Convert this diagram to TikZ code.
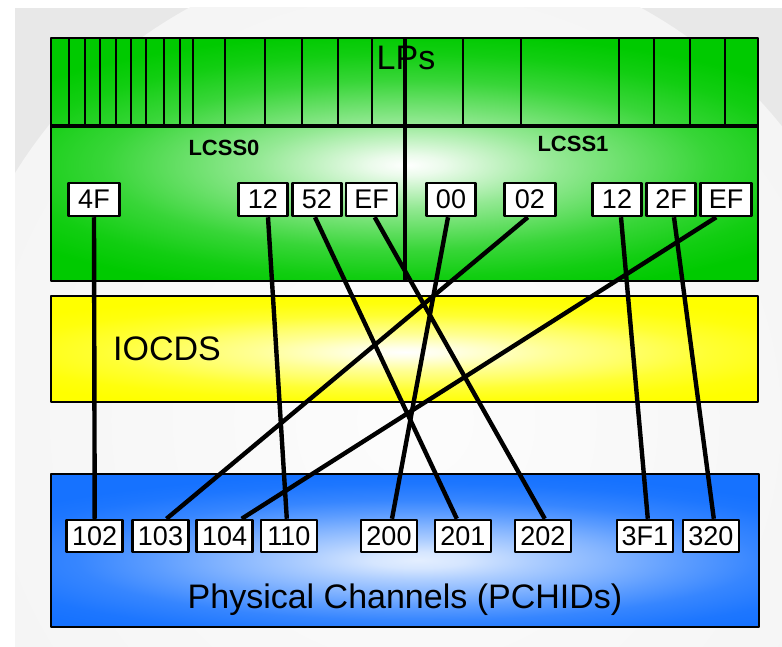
\documentclass[tikz,border=0pt]{standalone}
\usepackage{fontspec}
\setmainfont{Liberation Sans}
\definecolor{lpgreen}{RGB}{0,202,0}
\definecolor{iocyellow}{RGB}{255,255,0}
\definecolor{chblue}{RGB}{22,114,255}
\definecolor{bggray}{RGB}{232,232,232}
\pgfdeclareradialshading{greenglow}{\pgfpointorigin}{color(0bp)=(white); color(4bp)=(lpgreen!8!white); color(10bp)=(lpgreen!25!white); color(16bp)=(lpgreen!42!white); color(24bp)=(lpgreen!60!white); color(32bp)=(lpgreen!78!white); color(42bp)=(lpgreen!93!white); color(50bp)=(lpgreen); color(80bp)=(lpgreen)}
\pgfdeclareradialshading{yellowglow}{\pgfpointorigin}{color(0bp)=(white); color(4bp)=(iocyellow!8!white); color(10bp)=(iocyellow!25!white); color(16bp)=(iocyellow!42!white); color(24bp)=(iocyellow!60!white); color(32bp)=(iocyellow!80!white); color(42bp)=(iocyellow!95!white); color(50bp)=(iocyellow); color(80bp)=(iocyellow)}
\pgfdeclareradialshading{blueglow}{\pgfpointorigin}{color(0bp)=(chblue!12!white); color(5bp)=(chblue!18!white); color(12bp)=(chblue!35!white); color(20bp)=(chblue!52!white); color(28bp)=(chblue!70!white); color(36bp)=(chblue!86!white); color(46bp)=(chblue!97!white); color(52bp)=(chblue); color(80bp)=(chblue)}
\pgfdeclareradialshading{bgglow}{\pgfpointorigin}{color(0bp)=(white!99!black); color(25bp)=(white!96!black); color(45bp)=(bggray); color(80bp)=(bggray)}
\newcommand\glowbox[7]{%
	\begin{scope}
		\clip (#2,#3) rectangle (#4,#5);
		\begin{scope}[shift={(#6,#7)},xscale={(#4-#2)/75},yscale={(#5-#3)/92}]
			\pgflowlevelsynccm\pgfuseshading{#1}
		\end{scope}
	\end{scope}
	\draw[line width=2.5pt] (#2,#3) rectangle (#4,#5);}
\begin{document}
\begin{tikzpicture}[x=1pt,y=-1pt,line join=round,
	lcbox/.style={draw,fill=white,line width=2.5pt,minimum width=49,minimum height=33,inner sep=0pt,font=\fontsize{27}{30}\selectfont},
	chbox/.style={lcbox,minimum width=56,minimum height=32},
	bigtext/.style={anchor=base,font=\fontsize{34}{40}\selectfont},
	csstext/.style={anchor=base,font=\fontsize{22}{26}\selectfont\bfseries},
	link/.style={line width=4.4pt}]
	\useasboundingbox (0,0) rectangle (782,647);
	\fill[bggray] (15,8) rectangle (782,647);
	\begin{scope}
		\clip (15,8) rectangle (782,647);
		\shade[shading=bgglow] (415,420) circle (470);
	\end{scope}
	\glowbox{greenglow}{51}{38}{758}{281}{407}{165}
	\foreach \x in {69,85,100,116,131,146,164,180,193,225,265,302,338,372,463,521,619,654,690,725}
		\draw[line width=2.5pt] (\x,38) -- (\x,126);
	\draw[line width=3.4pt] (51,126) -- (758,126);
	\draw[line width=3.6pt] (405,38) -- (405,281);
	\node[bigtext] (lps) at (406,70) {LPs};
	\node[csstext] (lcss0) at (224,156) {LCSS0};
	\node[csstext] (lcss1) at (573,152) {LCSS1};
	\glowbox{yellowglow}{51}{296}{758}{402}{405}{352}
	\node[bigtext] (iocds) at (167,360) {IOCDS};
	\glowbox{blueglow}{51}{474}{759}{627}{418}{560}
	\node[bigtext] (pch) at (405,608) {Physical Channels (PCHIDs)};
	\node[lcbox,minimum width=51] (a4F) at (94,199.5) {4F};
	\node[lcbox] (a12) at (263,199.5) {12};
	\node[lcbox] (a52) at (317,199.5) {52};
	\node[lcbox,minimum width=51] (aEF) at (371.7,199.5) {EF};
	\node[lcbox] (b00) at (451,199.5) {00};
	\node[lcbox,minimum width=51] (b02) at (529.8,199.5) {02};
	\node[lcbox] (b12) at (617,199.5) {12};
	\node[lcbox] (b2F) at (671,199.5) {2F};
	\node[lcbox,minimum width=51] (bEF) at (726.2,199.5) {EF};
	\node[chbox] (p102) at (94.7,536) {102};
	\node[chbox] (p103) at (160.5,536) {103};
	\node[chbox] (p104) at (224.7,536) {104};
	\node[chbox] (p110) at (288.8,536) {110};
	\node[chbox] (p200) at (389,536) {200};
	\node[chbox] (p201) at (462.8,536) {201};
	\node[chbox] (p202) at (542.8,536) {202};
	\node[chbox] (p3F1) at (644.8,536) {3F1};
	\node[chbox] (p320) at (710.8,536) {320};
	\draw[link] (a4F.south) -- (p102.north);
	\draw[link] ([xshift=5pt]a12.south) -- ([xshift=-2pt]p110.north);
	\draw[link] ([xshift=-2pt]a52.south) -- ([xshift=-6pt]p201.north);
	\draw[link] ([xshift=3pt]aEF.south) -- ([xshift=2pt]p202.north);
	\draw[link] ([xshift=-3pt]b00.south) -- ([xshift=3pt]p200.north);
	\draw[link] ([xshift=-2pt]b02.south) -- ([xshift=6pt]p103.north);
	\draw[link] ([xshift=4pt]b12.south) -- ([xshift=3pt]p3F1.north);
	\draw[link] ([xshift=3pt]b2F.south) -- ([xshift=3pt]p320.north);
	\draw[link] ([xshift=-10pt]bEF.south) -- ([xshift=17pt]p104.north);
\end{tikzpicture}
\end{document}
